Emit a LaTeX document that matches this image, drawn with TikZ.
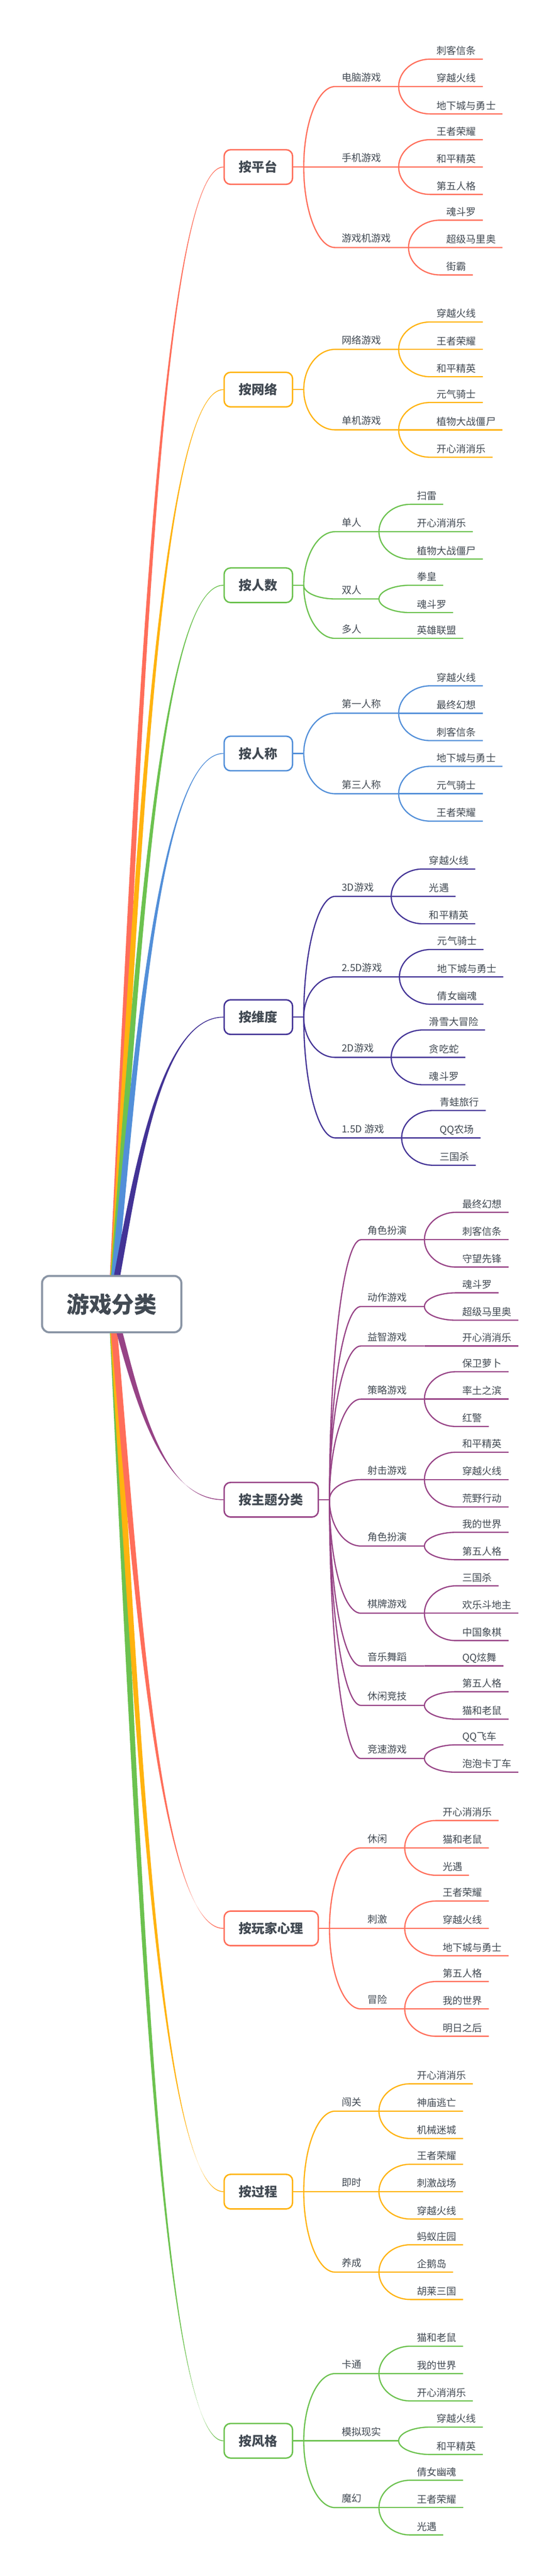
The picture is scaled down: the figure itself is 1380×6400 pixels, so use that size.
\documentclass[tikz,border=0pt]{standalone}
\usepackage{fontspec}
\newfontfamily\cjk{Noto Sans CJK SC}
\usetikzlibrary{calc}
\usetikzlibrary{backgrounds}

\definecolor{ink}{HTML}{424A53}
\definecolor{rootline}{HTML}{8A95A5}
\definecolor{coral}{HTML}{FF6E5A}
\definecolor{amber}{HTML}{FFB30F}
\definecolor{leafgreen}{HTML}{6CC24F}
\definecolor{skyblue}{HTML}{528FD9}
\definecolor{indigo}{HTML}{433396}
\definecolor{plum}{HTML}{974386}

\tikzset{
  rootbox/.style={draw=rootline, fill=white, line width=2.5pt, rounded corners=9pt,
    minimum width=173pt, minimum height=70pt, text=ink,
    font=\cjk\bfseries\fontsize{28}{28}\selectfont},
  catbox/.style={draw=#1, fill=white, line width=1.75pt, rounded corners=8pt,
    anchor=west, minimum height=43pt, inner xsep=18.5pt, text=ink,
    font=\cjk\bfseries\fontsize{16}{16}\selectfont},
  subtopic/.style={anchor=south west, inner xsep=8pt, inner ysep=0pt,
    text height=9pt, text depth=6.5pt, text=ink,
    font=\cjk\fontsize{12.25}{14}\selectfont},
  leaf/.style={subtopic, text depth=5.6pt},
  twig/.style={line width=1.5pt},
  branch/.style={to path={.. controls ($(\tikztostart)!0.55!(\tikztostart |- \tikztotarget)$)
    and ($(\tikztotarget)!0.55!(\tikztostart |- \tikztotarget)$) .. (\tikztotarget)}}
}

% tapered main branch from the root to a category box
\newcommand{\mainbranch}[2]{%
  \fill[#2] let \p1=(games.center), \p2=(#1.west), \n1={\x2-\x1}, \n2={\y2-\y1} in
    (\x1-4pt,\y1)
    .. controls (\x1-4pt+0.2*\n1,\y1+0.4*\n2) and (\x1+0.4*\n1,\y2+0.5pt) .. (\x2,\y2+0.5pt)
    -- (\x2,\y2-0.5pt)
    .. controls (\x1+0.4*\n1,\y2-0.5pt) and (\x1+4pt+0.2*\n1,\y1+0.4*\n2) .. (\x1+4pt,\y1)
    -- cycle;}

\begin{document}
\begin{tikzpicture}[x=0.5pt, y=-0.5pt]
  \useasboundingbox (0,0) rectangle (1380,6400);

  \node[rootbox] (games) at (277.5,3240) {游戏分类};

  % 按平台
  \node[catbox=coral] (pingtai) at (555,415) {按平台};
  \coordinate (pingtai-j) at ($(pingtai.east)+(26,0)$);
  \draw[twig, coral] (pingtai.east) -- (pingtai-j);

  \node[subtopic] (pingtai-1) at ($(pingtai-j)+(78,-200)$) {电脑游戏};
  \coordinate (pingtai-1j) at ($(pingtai-1.south east)+(27,0)$);
  \draw[twig, coral] (pingtai-j) to[branch] (pingtai-1.south west) -- (pingtai-1j);
  \foreach \nm/\dy/\txt in {a/-68/刺客信条, b/0/穿越火线, c/68/地下城与勇士} {
    \node[leaf] (pingtai-1\nm) at ($(pingtai-1j)+(78,\dy)$) {\txt};
    \draw[twig, coral] (pingtai-1j) to[branch] (pingtai-1\nm.south west) -- (pingtai-1\nm.south east);
  }

  \node[subtopic] (pingtai-2) at ($(pingtai-j)+(78,0)$) {手机游戏};
  \coordinate (pingtai-2j) at ($(pingtai-2.south east)+(27,0)$);
  \draw[twig, coral] (pingtai-j) to[branch] (pingtai-2.south west) -- (pingtai-2j);
  \foreach \nm/\dy/\txt in {a/-68/王者荣耀, b/0/和平精英, c/68/第五人格} {
    \node[leaf] (pingtai-2\nm) at ($(pingtai-2j)+(78,\dy)$) {\txt};
    \draw[twig, coral] (pingtai-2j) to[branch] (pingtai-2\nm.south west) -- (pingtai-2\nm.south east);
  }

  \node[subtopic] (pingtai-3) at ($(pingtai-j)+(78,200)$) {游戏机游戏};
  \coordinate (pingtai-3j) at ($(pingtai-3.south east)+(27,0)$);
  \draw[twig, coral] (pingtai-j) to[branch] (pingtai-3.south west) -- (pingtai-3j);
  \foreach \nm/\dy/\txt in {a/-68/魂斗罗, b/0/超级马里奥, c/68/街霸} {
    \node[leaf] (pingtai-3\nm) at ($(pingtai-3j)+(78,\dy)$) {\txt};
    \draw[twig, coral] (pingtai-3j) to[branch] (pingtai-3\nm.south west) -- (pingtai-3\nm.south east);
  }

  % 按网络
  \node[catbox=amber] (wangluo) at (555,968) {按网络};
  \coordinate (wangluo-j) at ($(wangluo.east)+(26,0)$);
  \draw[twig, amber] (wangluo.east) -- (wangluo-j);

  \node[subtopic] (wangluo-1) at ($(wangluo-j)+(78,-100)$) {网络游戏};
  \coordinate (wangluo-1j) at ($(wangluo-1.south east)+(27,0)$);
  \draw[twig, amber] (wangluo-j) to[branch] (wangluo-1.south west) -- (wangluo-1j);
  \foreach \nm/\dy/\txt in {a/-68/穿越火线, b/0/王者荣耀, c/68/和平精英} {
    \node[leaf] (wangluo-1\nm) at ($(wangluo-1j)+(78,\dy)$) {\txt};
    \draw[twig, amber] (wangluo-1j) to[branch] (wangluo-1\nm.south west) -- (wangluo-1\nm.south east);
  }

  \node[subtopic] (wangluo-2) at ($(wangluo-j)+(78,100)$) {单机游戏};
  \coordinate (wangluo-2j) at ($(wangluo-2.south east)+(27,0)$);
  \draw[twig, amber] (wangluo-j) to[branch] (wangluo-2.south west) -- (wangluo-2j);
  \foreach \nm/\dy/\txt in {a/-68/元气骑士, b/0/植物大战僵尸, c/68/开心消消乐} {
    \node[leaf] (wangluo-2\nm) at ($(wangluo-2j)+(78,\dy)$) {\txt};
    \draw[twig, amber] (wangluo-2j) to[branch] (wangluo-2\nm.south west) -- (wangluo-2\nm.south east);
  }

  % 按人数
  \node[catbox=leafgreen] (renshu) at (555,1454) {按人数};
  \coordinate (renshu-j) at ($(renshu.east)+(26,0)$);
  \draw[twig, leafgreen] (renshu.east) -- (renshu-j);

  \node[subtopic] (renshu-1) at ($(renshu-j)+(78,-133)$) {单人};
  \coordinate (renshu-1j) at ($(renshu-1.south east)+(27,0)$);
  \draw[twig, leafgreen] (renshu-j) to[branch] (renshu-1.south west) -- (renshu-1j);
  \foreach \nm/\dy/\txt in {a/-68/扫雷, b/0/开心消消乐, c/68/植物大战僵尸} {
    \node[leaf] (renshu-1\nm) at ($(renshu-1j)+(78,\dy)$) {\txt};
    \draw[twig, leafgreen] (renshu-1j) to[branch] (renshu-1\nm.south west) -- (renshu-1\nm.south east);
  }

  \node[subtopic] (renshu-2) at ($(renshu-j)+(78,34)$) {双人};
  \coordinate (renshu-2j) at ($(renshu-2.south east)+(27,0)$);
  \draw[twig, leafgreen] (renshu-j) to[branch] (renshu-2.south west) -- (renshu-2j);
  \foreach \nm/\dy/\txt in {a/-34/拳皇, b/34/魂斗罗} {
    \node[leaf] (renshu-2\nm) at ($(renshu-2j)+(78,\dy)$) {\txt};
    \draw[twig, leafgreen] (renshu-2j) to[branch] (renshu-2\nm.south west) -- (renshu-2\nm.south east);
  }

  \node[subtopic] (renshu-3) at ($(renshu-j)+(78,132)$) {多人};
  \coordinate (renshu-3j) at ($(renshu-3.south east)+(27,0)$);
  \draw[twig, leafgreen] (renshu-j) to[branch] (renshu-3.south west) -- (renshu-3j);
  \node[leaf] (renshu-3a) at ($(renshu-3j)+(78,0)$) {英雄联盟};
  \draw[twig, leafgreen] (renshu-3j) -- (renshu-3a.south west) -- (renshu-3a.south east);

  % 按人称
  \node[catbox=skyblue] (rencheng) at (555,1872) {按人称};
  \coordinate (rencheng-j) at ($(rencheng.east)+(26,0)$);
  \draw[twig, skyblue] (rencheng.east) -- (rencheng-j);

  \node[subtopic] (rencheng-1) at ($(rencheng-j)+(78,-100)$) {第一人称};
  \coordinate (rencheng-1j) at ($(rencheng-1.south east)+(27,0)$);
  \draw[twig, skyblue] (rencheng-j) to[branch] (rencheng-1.south west) -- (rencheng-1j);
  \foreach \nm/\dy/\txt in {a/-68/穿越火线, b/0/最终幻想, c/68/刺客信条} {
    \node[leaf] (rencheng-1\nm) at ($(rencheng-1j)+(78,\dy)$) {\txt};
    \draw[twig, skyblue] (rencheng-1j) to[branch] (rencheng-1\nm.south west) -- (rencheng-1\nm.south east);
  }

  \node[subtopic] (rencheng-2) at ($(rencheng-j)+(78,100)$) {第三人称};
  \coordinate (rencheng-2j) at ($(rencheng-2.south east)+(27,0)$);
  \draw[twig, skyblue] (rencheng-j) to[branch] (rencheng-2.south west) -- (rencheng-2j);
  \foreach \nm/\dy/\txt in {a/-68/地下城与勇士, b/0/元气骑士, c/68/王者荣耀} {
    \node[leaf] (rencheng-2\nm) at ($(rencheng-2j)+(78,\dy)$) {\txt};
    \draw[twig, skyblue] (rencheng-2j) to[branch] (rencheng-2\nm.south west) -- (rencheng-2\nm.south east);
  }

  % 按维度
  \node[catbox=indigo] (weidu) at (555,2527) {按维度};
  \coordinate (weidu-j) at ($(weidu.east)+(26,0)$);
  \draw[twig, indigo] (weidu.east) -- (weidu-j);

  \node[subtopic] (weidu-1) at ($(weidu-j)+(78,-300)$) {3D游戏};
  \coordinate (weidu-1j) at ($(weidu-1.south east)+(27,0)$);
  \draw[twig, indigo] (weidu-j) to[branch] (weidu-1.south west) -- (weidu-1j);
  \foreach \nm/\dy/\txt in {a/-68/穿越火线, b/0/光遇, c/68/和平精英} {
    \node[leaf] (weidu-1\nm) at ($(weidu-1j)+(78,\dy)$) {\txt};
    \draw[twig, indigo] (weidu-1j) to[branch] (weidu-1\nm.south west) -- (weidu-1\nm.south east);
  }

  \node[subtopic] (weidu-2) at ($(weidu-j)+(78,-100)$) {2.5D游戏};
  \coordinate (weidu-2j) at ($(weidu-2.south east)+(27,0)$);
  \draw[twig, indigo] (weidu-j) to[branch] (weidu-2.south west) -- (weidu-2j);
  \foreach \nm/\dy/\txt in {a/-68/元气骑士, b/0/地下城与勇士, c/68/倩女幽魂} {
    \node[leaf] (weidu-2\nm) at ($(weidu-2j)+(78,\dy)$) {\txt};
    \draw[twig, indigo] (weidu-2j) to[branch] (weidu-2\nm.south west) -- (weidu-2\nm.south east);
  }

  \node[subtopic] (weidu-3) at ($(weidu-j)+(78,100)$) {2D游戏};
  \coordinate (weidu-3j) at ($(weidu-3.south east)+(27,0)$);
  \draw[twig, indigo] (weidu-j) to[branch] (weidu-3.south west) -- (weidu-3j);
  \foreach \nm/\dy/\txt in {a/-68/滑雪大冒险, b/0/贪吃蛇, c/68/魂斗罗} {
    \node[leaf] (weidu-3\nm) at ($(weidu-3j)+(78,\dy)$) {\txt};
    \draw[twig, indigo] (weidu-3j) to[branch] (weidu-3\nm.south west) -- (weidu-3\nm.south east);
  }

  \node[subtopic] (weidu-4) at ($(weidu-j)+(78,300)$) {1.5D 游戏};
  \coordinate (weidu-4j) at ($(weidu-4.south east)+(27,0)$);
  \draw[twig, indigo] (weidu-j) to[branch] (weidu-4.south west) -- (weidu-4j);
  \foreach \nm/\dy/\txt in {a/-68/青蛙旅行, b/0/QQ农场, c/68/三国杀} {
    \node[leaf] (weidu-4\nm) at ($(weidu-4j)+(78,\dy)$) {\txt};
    \draw[twig, indigo] (weidu-4j) to[branch] (weidu-4\nm.south west) -- (weidu-4\nm.south east);
  }

  % 按主题分类
  \node[catbox=plum] (zhuti) at (555,3726) {按主题分类};
  \coordinate (zhuti-j) at ($(zhuti.east)+(26,0)$);
  \draw[twig, plum] (zhuti.east) -- (zhuti-j);

  \node[subtopic] (zhuti-1) at ($(zhuti-j)+(78,-646)$) {角色扮演};
  \coordinate (zhuti-1j) at ($(zhuti-1.south east)+(27,0)$);
  \draw[twig, plum] (zhuti-j) to[branch] (zhuti-1.south west) -- (zhuti-1j);
  \foreach \nm/\dy/\txt in {a/-68/最终幻想, b/0/刺客信条, c/68/守望先锋} {
    \node[leaf] (zhuti-1\nm) at ($(zhuti-1j)+(78,\dy)$) {\txt};
    \draw[twig, plum] (zhuti-1j) to[branch] (zhuti-1\nm.south west) -- (zhuti-1\nm.south east);
  }

  \node[subtopic] (zhuti-2) at ($(zhuti-j)+(78,-480)$) {动作游戏};
  \coordinate (zhuti-2j) at ($(zhuti-2.south east)+(27,0)$);
  \draw[twig, plum] (zhuti-j) to[branch] (zhuti-2.south west) -- (zhuti-2j);
  \foreach \nm/\dy/\txt in {a/-34/魂斗罗, b/34/超级马里奥} {
    \node[leaf] (zhuti-2\nm) at ($(zhuti-2j)+(78,\dy)$) {\txt};
    \draw[twig, plum] (zhuti-2j) to[branch] (zhuti-2\nm.south west) -- (zhuti-2\nm.south east);
  }

  \node[subtopic] (zhuti-3) at ($(zhuti-j)+(78,-382)$) {益智游戏};
  \coordinate (zhuti-3j) at ($(zhuti-3.south east)+(27,0)$);
  \draw[twig, plum] (zhuti-j) to[branch] (zhuti-3.south west) -- (zhuti-3j);
  \node[leaf] (zhuti-3a) at ($(zhuti-3j)+(78,0)$) {开心消消乐};
  \draw[twig, plum] (zhuti-3j) -- (zhuti-3a.south west) -- (zhuti-3a.south east);

  \node[subtopic] (zhuti-4) at ($(zhuti-j)+(78,-250)$) {策略游戏};
  \coordinate (zhuti-4j) at ($(zhuti-4.south east)+(27,0)$);
  \draw[twig, plum] (zhuti-j) to[branch] (zhuti-4.south west) -- (zhuti-4j);
  \foreach \nm/\dy/\txt in {a/-68/保卫萝卜, b/0/率土之滨, c/68/红警} {
    \node[leaf] (zhuti-4\nm) at ($(zhuti-4j)+(78,\dy)$) {\txt};
    \draw[twig, plum] (zhuti-4j) to[branch] (zhuti-4\nm.south west) -- (zhuti-4\nm.south east);
  }

  \node[subtopic] (zhuti-5) at ($(zhuti-j)+(78,-50)$) {射击游戏};
  \coordinate (zhuti-5j) at ($(zhuti-5.south east)+(27,0)$);
  \draw[twig, plum] (zhuti-j) to[branch] (zhuti-5.south west) -- (zhuti-5j);
  \foreach \nm/\dy/\txt in {a/-68/和平精英, b/0/穿越火线, c/68/荒野行动} {
    \node[leaf] (zhuti-5\nm) at ($(zhuti-5j)+(78,\dy)$) {\txt};
    \draw[twig, plum] (zhuti-5j) to[branch] (zhuti-5\nm.south west) -- (zhuti-5\nm.south east);
  }

  \node[subtopic] (zhuti-6) at ($(zhuti-j)+(78,115)$) {角色扮演};
  \coordinate (zhuti-6j) at ($(zhuti-6.south east)+(27,0)$);
  \draw[twig, plum] (zhuti-j) to[branch] (zhuti-6.south west) -- (zhuti-6j);
  \foreach \nm/\dy/\txt in {a/-34/我的世界, b/34/第五人格} {
    \node[leaf] (zhuti-6\nm) at ($(zhuti-6j)+(78,\dy)$) {\txt};
    \draw[twig, plum] (zhuti-6j) to[branch] (zhuti-6\nm.south west) -- (zhuti-6\nm.south east);
  }

  \node[subtopic] (zhuti-7) at ($(zhuti-j)+(78,282)$) {棋牌游戏};
  \coordinate (zhuti-7j) at ($(zhuti-7.south east)+(27,0)$);
  \draw[twig, plum] (zhuti-j) to[branch] (zhuti-7.south west) -- (zhuti-7j);
  \foreach \nm/\dy/\txt in {a/-68/三国杀, b/0/欢乐斗地主, c/68/中国象棋} {
    \node[leaf] (zhuti-7\nm) at ($(zhuti-7j)+(78,\dy)$) {\txt};
    \draw[twig, plum] (zhuti-7j) to[branch] (zhuti-7\nm.south west) -- (zhuti-7\nm.south east);
  }

  \node[subtopic] (zhuti-8) at ($(zhuti-j)+(78,413)$) {音乐舞蹈};
  \coordinate (zhuti-8j) at ($(zhuti-8.south east)+(27,0)$);
  \draw[twig, plum] (zhuti-j) to[branch] (zhuti-8.south west) -- (zhuti-8j);
  \node[leaf] (zhuti-8a) at ($(zhuti-8j)+(78,0)$) {QQ炫舞};
  \draw[twig, plum] (zhuti-8j) -- (zhuti-8a.south west) -- (zhuti-8a.south east);

  \node[subtopic] (zhuti-9) at ($(zhuti-j)+(78,511)$) {休闲竞技};
  \coordinate (zhuti-9j) at ($(zhuti-9.south east)+(27,0)$);
  \draw[twig, plum] (zhuti-j) to[branch] (zhuti-9.south west) -- (zhuti-9j);
  \foreach \nm/\dy/\txt in {a/-34/第五人格, b/34/猫和老鼠} {
    \node[leaf] (zhuti-9\nm) at ($(zhuti-9j)+(78,\dy)$) {\txt};
    \draw[twig, plum] (zhuti-9j) to[branch] (zhuti-9\nm.south west) -- (zhuti-9\nm.south east);
  }

  \node[subtopic] (zhuti-10) at ($(zhuti-j)+(78,643)$) {竞速游戏};
  \coordinate (zhuti-10j) at ($(zhuti-10.south east)+(27,0)$);
  \draw[twig, plum] (zhuti-j) to[branch] (zhuti-10.south west) -- (zhuti-10j);
  \foreach \nm/\dy/\txt in {a/-34/QQ飞车, b/34/泡泡卡丁车} {
    \node[leaf] (zhuti-10\nm) at ($(zhuti-10j)+(78,\dy)$) {\txt};
    \draw[twig, plum] (zhuti-10j) to[branch] (zhuti-10\nm.south west) -- (zhuti-10\nm.south east);
  }

  % 按玩家心理
  \node[catbox=coral] (xinli) at (555,4791) {按玩家心理};
  \coordinate (xinli-j) at ($(xinli.east)+(26,0)$);
  \draw[twig, coral] (xinli.east) -- (xinli-j);

  \node[subtopic] (xinli-1) at ($(xinli-j)+(78,-200)$) {休闲};
  \coordinate (xinli-1j) at ($(xinli-1.south east)+(27,0)$);
  \draw[twig, coral] (xinli-j) to[branch] (xinli-1.south west) -- (xinli-1j);
  \foreach \nm/\dy/\txt in {a/-68/开心消消乐, b/0/猫和老鼠, c/68/光遇} {
    \node[leaf] (xinli-1\nm) at ($(xinli-1j)+(78,\dy)$) {\txt};
    \draw[twig, coral] (xinli-1j) to[branch] (xinli-1\nm.south west) -- (xinli-1\nm.south east);
  }

  \node[subtopic] (xinli-2) at ($(xinli-j)+(78,0)$) {刺激};
  \coordinate (xinli-2j) at ($(xinli-2.south east)+(27,0)$);
  \draw[twig, coral] (xinli-j) to[branch] (xinli-2.south west) -- (xinli-2j);
  \foreach \nm/\dy/\txt in {a/-68/王者荣耀, b/0/穿越火线, c/68/地下城与勇士} {
    \node[leaf] (xinli-2\nm) at ($(xinli-2j)+(78,\dy)$) {\txt};
    \draw[twig, coral] (xinli-2j) to[branch] (xinli-2\nm.south west) -- (xinli-2\nm.south east);
  }

  \node[subtopic] (xinli-3) at ($(xinli-j)+(78,200)$) {冒险};
  \coordinate (xinli-3j) at ($(xinli-3.south east)+(27,0)$);
  \draw[twig, coral] (xinli-j) to[branch] (xinli-3.south west) -- (xinli-3j);
  \foreach \nm/\dy/\txt in {a/-68/第五人格, b/0/我的世界, c/68/明日之后} {
    \node[leaf] (xinli-3\nm) at ($(xinli-3j)+(78,\dy)$) {\txt};
    \draw[twig, coral] (xinli-3j) to[branch] (xinli-3\nm.south west) -- (xinli-3\nm.south east);
  }

  % 按过程
  \node[catbox=amber] (guocheng) at (555,5445) {按过程};
  \coordinate (guocheng-j) at ($(guocheng.east)+(26,0)$);
  \draw[twig, amber] (guocheng.east) -- (guocheng-j);

  \node[subtopic] (guocheng-1) at ($(guocheng-j)+(78,-200)$) {闯关};
  \coordinate (guocheng-1j) at ($(guocheng-1.south east)+(27,0)$);
  \draw[twig, amber] (guocheng-j) to[branch] (guocheng-1.south west) -- (guocheng-1j);
  \foreach \nm/\dy/\txt in {a/-68/开心消消乐, b/0/神庙逃亡, c/68/机械迷城} {
    \node[leaf] (guocheng-1\nm) at ($(guocheng-1j)+(78,\dy)$) {\txt};
    \draw[twig, amber] (guocheng-1j) to[branch] (guocheng-1\nm.south west) -- (guocheng-1\nm.south east);
  }

  \node[subtopic] (guocheng-2) at ($(guocheng-j)+(78,0)$) {即时};
  \coordinate (guocheng-2j) at ($(guocheng-2.south east)+(27,0)$);
  \draw[twig, amber] (guocheng-j) to[branch] (guocheng-2.south west) -- (guocheng-2j);
  \foreach \nm/\dy/\txt in {a/-68/王者荣耀, b/0/刺激战场, c/68/穿越火线} {
    \node[leaf] (guocheng-2\nm) at ($(guocheng-2j)+(78,\dy)$) {\txt};
    \draw[twig, amber] (guocheng-2j) to[branch] (guocheng-2\nm.south west) -- (guocheng-2\nm.south east);
  }

  \node[subtopic] (guocheng-3) at ($(guocheng-j)+(78,200)$) {养成};
  \coordinate (guocheng-3j) at ($(guocheng-3.south east)+(27,0)$);
  \draw[twig, amber] (guocheng-j) to[branch] (guocheng-3.south west) -- (guocheng-3j);
  \foreach \nm/\dy/\txt in {a/-68/蚂蚁庄园, b/0/企鹅岛, c/68/胡莱三国} {
    \node[leaf] (guocheng-3\nm) at ($(guocheng-3j)+(78,\dy)$) {\txt};
    \draw[twig, amber] (guocheng-3j) to[branch] (guocheng-3\nm.south west) -- (guocheng-3\nm.south east);
  }

  % 按风格
  \node[catbox=leafgreen] (fengge) at (555,6064) {按风格};
  \coordinate (fengge-j) at ($(fengge.east)+(26,0)$);
  \draw[twig, leafgreen] (fengge.east) -- (fengge-j);

  \node[subtopic] (fengge-1) at ($(fengge-j)+(78,-167)$) {卡通};
  \coordinate (fengge-1j) at ($(fengge-1.south east)+(27,0)$);
  \draw[twig, leafgreen] (fengge-j) to[branch] (fengge-1.south west) -- (fengge-1j);
  \foreach \nm/\dy/\txt in {a/-68/猫和老鼠, b/0/我的世界, c/68/开心消消乐} {
    \node[leaf] (fengge-1\nm) at ($(fengge-1j)+(78,\dy)$) {\txt};
    \draw[twig, leafgreen] (fengge-1j) to[branch] (fengge-1\nm.south west) -- (fengge-1\nm.south east);
  }

  \node[subtopic] (fengge-2) at ($(fengge-j)+(78,0)$) {模拟现实};
  \coordinate (fengge-2j) at ($(fengge-2.south east)+(27,0)$);
  \draw[twig, leafgreen] (fengge-j) to[branch] (fengge-2.south west) -- (fengge-2j);
  \foreach \nm/\dy/\txt in {a/-34/穿越火线, b/34/和平精英} {
    \node[leaf] (fengge-2\nm) at ($(fengge-2j)+(78,\dy)$) {\txt};
    \draw[twig, leafgreen] (fengge-2j) to[branch] (fengge-2\nm.south west) -- (fengge-2\nm.south east);
  }

  \node[subtopic] (fengge-3) at ($(fengge-j)+(78,166)$) {魔幻};
  \coordinate (fengge-3j) at ($(fengge-3.south east)+(27,0)$);
  \draw[twig, leafgreen] (fengge-j) to[branch] (fengge-3.south west) -- (fengge-3j);
  \foreach \nm/\dy/\txt in {a/-68/倩女幽魂, b/0/王者荣耀, c/68/光遇} {
    \node[leaf] (fengge-3\nm) at ($(fengge-3j)+(78,\dy)$) {\txt};
    \draw[twig, leafgreen] (fengge-3j) to[branch] (fengge-3\nm.south west) -- (fengge-3\nm.south east);
  }

  % main branches behind the boxes
  \begin{scope}[on background layer]
    \fill[white] (0,0) rectangle (1380,6400);
    \mainbranch{pingtai}{coral}
    \mainbranch{wangluo}{amber}
    \mainbranch{renshu}{leafgreen}
    \mainbranch{rencheng}{skyblue}
    \mainbranch{weidu}{indigo}
    \mainbranch{fengge}{leafgreen}
    \mainbranch{guocheng}{amber}
    \mainbranch{xinli}{coral}
    \mainbranch{zhuti}{plum}
  \end{scope}
\end{tikzpicture}
\end{document}
